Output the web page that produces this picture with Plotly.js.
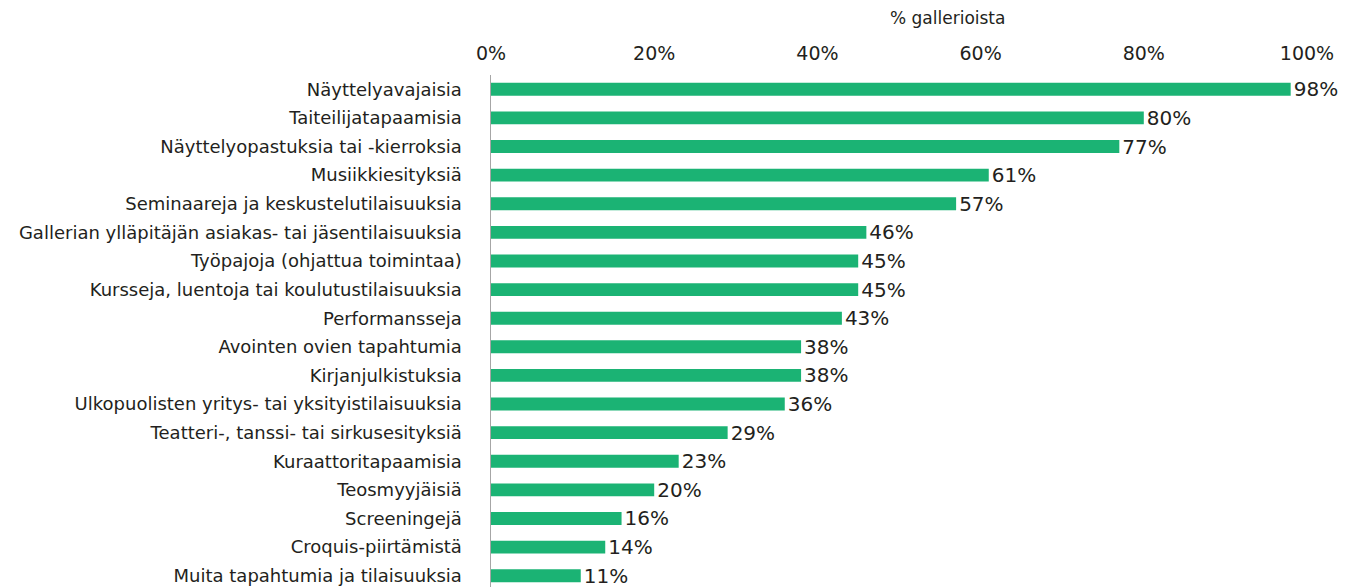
<!DOCTYPE html>
<html>
<head>
<meta charset="utf-8">
<script src="https://cdn.plot.ly/plotly-3.0.1.min.js"></script>
<style>
  html, body { margin: 0; padding: 0; overflow: hidden; background: #fff; }
</style>
</head>
<body>
<div id="plotArea"></div>
<script>
// Tapahtumatyypit ja osuus gallerioista
var categories = [
    "Näyttelyavajaisia",
    "Taiteilijatapaamisia",
    "Näyttelyopastuksia tai -kierroksia",
    "Musiikkiesityksiä",
    "Seminaareja ja keskustelutilaisuuksia",
    "Gallerian ylläpitäjän asiakas- tai jäsentilaisuuksia",
    "Työpajoja (ohjattua toimintaa)",
    "Kursseja, luentoja tai koulutustilaisuuksia",
    "Performansseja",
    "Avointen ovien tapahtumia",
    "Kirjanjulkistuksia",
    "Ulkopuolisten yritys- tai yksityistilaisuuksia",
    "Teatteri-, tanssi- tai sirkusesityksiä",
    "Kuraattoritapaamisia",
    "Teosmyyjäisiä",
    "Screeningejä",
    "Croquis-piirtämistä",
    "Muita tapahtumia ja tilaisuuksia"
];
var shares = [98, 80, 77, 61, 57, 46, 45, 45, 43, 38, 38, 36, 29, 23, 20, 16, 14, 11];
var tickValues = [0, 20, 40, 60, 80, 100];
var tickLabels = ["0%", "20%", "40%", "60%", "80%", "100%"];

var trace = {
    type: "bar",
    orientation: "h",
    x: shares,
    y: categories,
    marker: {color: "#1bb374"},
    text: shares.map(function(v) { return v + "%"; }),
    textposition: "outside",
    constraintext: "none",
    cliponaxis: false,
    textfont: {size: 20, color: "#231f20"},
    hoverinfo: "none"
};

var layout = {
    width: 1353,
    height: 590,
    margin: {l: 491, r: 46, t: 75, b: 0, pad: 0},
    paper_bgcolor: "#fff",
    plot_bgcolor: "#fff",
    font: {family: "'DejaVu Sans', 'Open Sans', sans-serif", color: "#231f20"},
    bargap: 0.55,
    showlegend: false,
    xaxis: {
        side: "top",
        range: [0, 100],
        tickvals: tickValues,
        ticktext: tickLabels,
        showgrid: false,
        zeroline: false,
        showline: false,
        ticks: "",
        ticklabelstandoff: 10,
        tickfont: {size: 19},
        fixedrange: true
    },
    yaxis: {
        autorange: "reversed",
        showgrid: false,
        zeroline: false,
        showline: true,
        linecolor: "#a6a6a6",
        linewidth: 1.5,
        ticks: "",
        ticklabelstandoff: 24,
        tickfont: {size: 18},
        fixedrange: true
    },
    annotations: [{
        text: "% gallerioista",
        xref: "paper", yref: "paper",
        x: 0.56, y: 1,
        yshift: 57,
        yanchor: "middle",
        xanchor: "center",
        showarrow: false,
        font: {size: 17}
    }]
};

Plotly.newPlot("plotArea", [trace], layout, {displayModeBar: false, staticPlot: true});
</script>
</body>
</html>
